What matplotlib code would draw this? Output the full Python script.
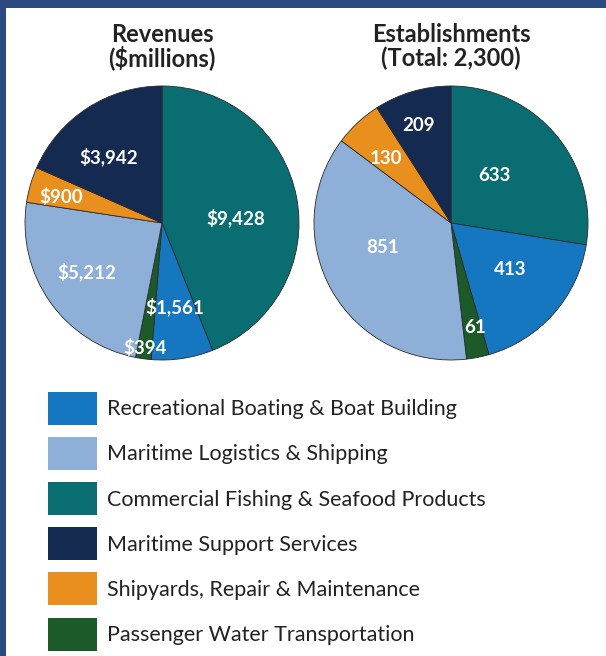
import matplotlib.pyplot as plt
import numpy as np
from matplotlib.patches import Rectangle

# legend order
categories = ['Recreational Boating & Boat Building',
              'Maritime Logistics & Shipping',
              'Commercial Fishing & Seafood Products',
              'Maritime Support Services',
              'Shipyards, Repair & Maintenance',
              'Passenger Water Transportation']
colors = ['#1477c0', '#8eb0d8', '#0a6d72', '#152a50', '#e88f1e', '#1c5a2a']
revenues = [1561, 5212, 9428, 3942, 900, 394]
establishments = [413, 851, 633, 209, 130, 61]
revenue_labels = ['$1,561', '$5,212', '$9,428', '$3,942', '$900', '$394']
estab_labels = ['413', '851', '633', '209', '130', '61']

# order of slices clockwise from 12 o'clock
pie_order = [2, 0, 5, 1, 4, 3]

FONT = 'Lato'


def draw_pie(ax, values, labels, dist, shift):
    vals = [values[i] for i in pie_order]
    cols = [colors[i] for i in pie_order]
    wedges, _ = ax.pie(vals, colors=cols, startangle=90, counterclock=False,
                       radius=1.0,
                       wedgeprops=dict(edgecolor='#2a2a2a', linewidth=0.6))
    for k, w in enumerate(wedges):
        i = pie_order[k]
        ang = np.deg2rad((w.theta1 + w.theta2) / 2 + shift[i])
        ax.text(dist[i] * np.cos(ang), dist[i] * np.sin(ang), labels[i],
                ha='center', va='center', color='white', fontsize=13.5,
                fontweight='bold', family=FONT)
    ax.set_xlim(-1, 1)
    ax.set_ylim(-1, 1)
    ax.set_aspect('equal')
    ax.axis('off')
    return wedges


def main():
    W, H = 606, 656
    fig = plt.figure(figsize=(W / 100, H / 100), dpi=100)
    fig.patch.set_facecolor('#2b4a80')
    fig.add_artist(Rectangle((6 / W, 0), 1, 1 - 8 / H, transform=fig.transFigure,
                             facecolor='white', edgecolor='none', zorder=0))

    r = 137
    ax1 = fig.add_axes([(162 - r) / W, 1 - (223 + r) / H, 2 * r / W, 2 * r / H])
    ax2 = fig.add_axes([(451 - r) / W, 1 - (223 + r) / H, 2 * r / W, 2 * r / H])

    draw_pie(ax1, revenues, revenue_labels,
             dist=[0.62, 0.66, 0.54, 0.62, 0.76, 0.92],
             shift=[0, -2, -7, 6, 2, 0])
    draw_pie(ax2, establishments, estab_labels,
             dist=[0.55, 0.53, 0.47, 0.75, 0.67, 0.78],
             shift=[3, -10, 7, 2, 2, 2])

    for x, (l1, l2) in [(162, ('Revenues', '($millions)')),
                        (451, ('Establishments', '(Total: 2,300)'))]:
        for y, s in [(34, l1), (58, l2)]:
            fig.text(x / W, 1 - y / H, s, ha='center', va='center',
                     fontsize=17, fontweight='bold', family=FONT,
                     color='#222222')

    handles = [Rectangle((0, 0), 1, 1, facecolor=colors[i], edgecolor='none')
               for i in range(len(categories))]
    fs = 15.5
    leg = fig.legend(handles, categories, loc='upper left',
                     bbox_to_anchor=(48 / W, 1 - 392 / H), frameon=False,
                     prop=dict(family=FONT, size=fs),
                     handlelength=2.28, handleheight=1.985, labelspacing=0.56,
                     handletextpad=0.47, borderpad=0, borderaxespad=0)
    for t in leg.get_texts():
        t.set_color('#222222')

    fig.savefig('out.png', dpi=100, facecolor=fig.get_facecolor())


if __name__ == '__main__':
    main()
